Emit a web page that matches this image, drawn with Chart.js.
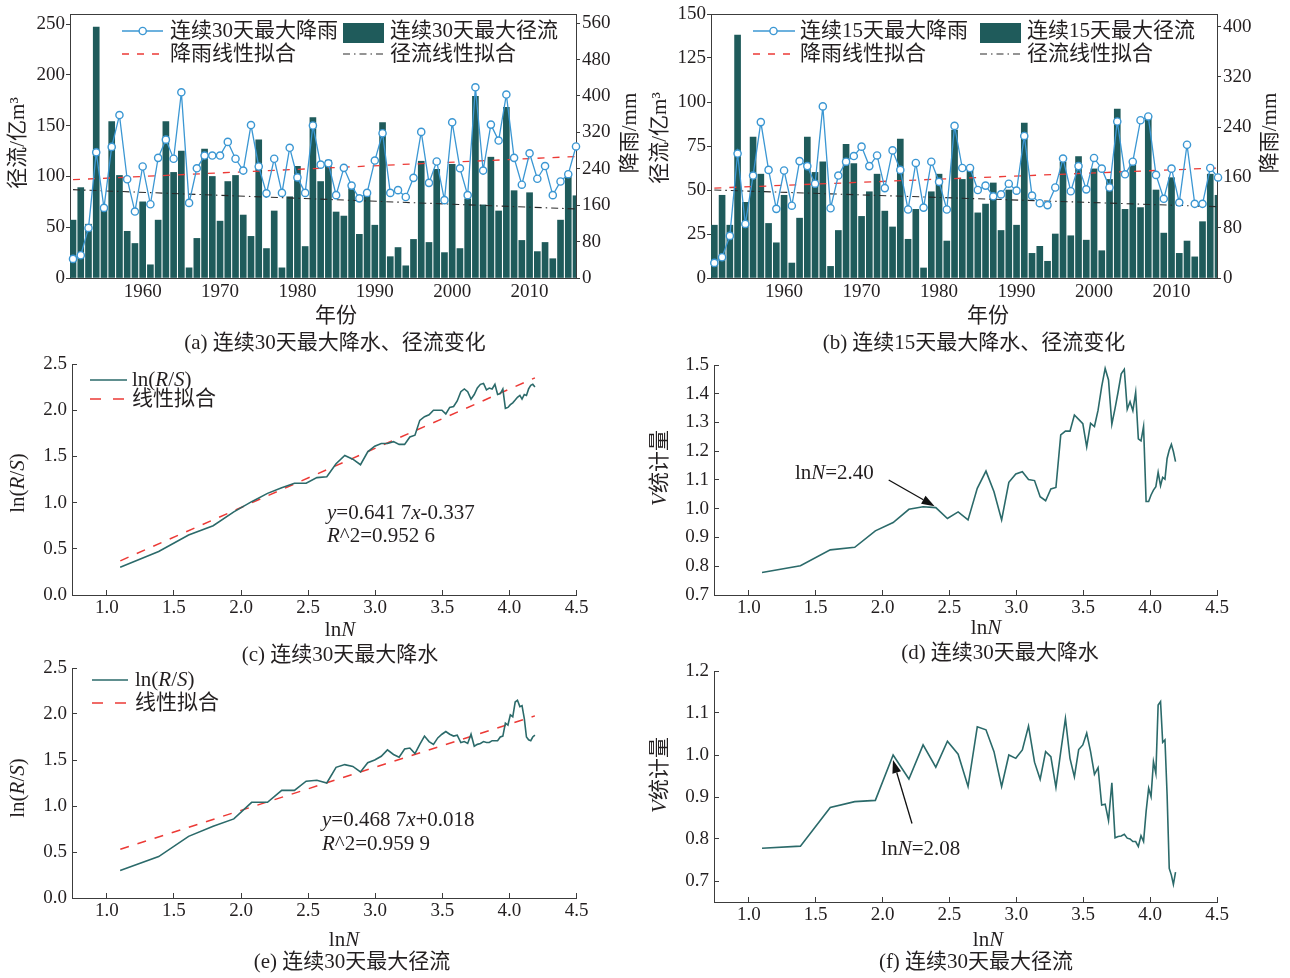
<!DOCTYPE html>
<html><head><meta charset="utf-8">
<script src="https://cdn.jsdelivr.net/npm/chart.js@4.4.1/dist/chart.umd.min.js"></script>
<style>
html,body{margin:0;padding:0;background:#fff;}
#wrap{position:relative;width:1290px;height:978px;overflow:hidden;background:#fff;}
.pane{position:absolute;}
canvas{display:block;}
</style></head><body><div id="wrap">
<div class="pane" style="left:0;top:0"><canvas id="ca" width="645" height="355"></canvas></div>
<div class="pane" style="left:645px;top:0"><canvas id="cb" width="645" height="355"></canvas></div>
<div class="pane" style="left:0;top:350px"><canvas id="cc" width="645" height="320"></canvas></div>
<div class="pane" style="left:645px;top:350px"><canvas id="cd" width="645" height="320"></canvas></div>
<div class="pane" style="left:0;top:655px"><canvas id="ce" width="645" height="323"></canvas></div>
<div class="pane" style="left:645px;top:655px"><canvas id="cf" width="645" height="323"></canvas></div>
</div>
<script>
// ---------------- data ----------------
const years = [1951,1952,1953,1954,1955,1956,1957,1958,1959,1960,1961,1962,1963,1964,1965,1966,1967,1968,1969,1970,1971,1972,1973,1974,1975,1976,1977,1978,1979,1980,1981,1982,1983,1984,1985,1986,1987,1988,1989,1990,1991,1992,1993,1994,1995,1996,1997,1998,1999,2000,2001,2002,2003,2004,2005,2006,2007,2008,2009,2010,2011,2012,2013,2014,2015,2016];
const yearTicks = [1960,1970,1980,1990,2000,2010];

// (a) 30-day max runoff (亿m³) and rainfall (mm)
const runoff30 = [57,89,53,247,67,154,101,46,34,75, 13,57,154,104,125,10,39,127,100,56, 95,101,62,41,136,29,66,10,80,110, 31,158,95,116,65,61,88,43,81,52, 153,21,30,12,38,115,35,107,25,112, 29,78,179,72,119,66,168,86,37,84, 26,35,19,57,100,81];
const rain30 = [42,50,110,276,154,288,358,217,146,245, 162,264,304,262,408,165,241,269,269,269, 299,262,236,336,245,186,262,187,286,221, 187,335,249,252,182,242,203,175,187,258, 318,187,193,178,220,321,209,256,171,342, 241,182,419,236,337,302,403,264,205,274, 218,246,182,212,228,289];
const rainFit30 = [216, 267];     // fit line at first / last year
const runoffFit30 = [87, 68];

// (b) 15-day max runoff and rainfall
const runoff15 = [30,47,30,138,43,80,59,31,20,47, 8.5,34,80,60,66,6.6,27,76,65,35, 49,59,38,29,79,22,39,5.7,49,59, 21,84,56,61,37,42,54,27,50,30, 88,14,18,9.5,25,66,24,69,21.5,62, 15.5,56,96,39,65,40,92,50,25.5,57, 14,21,12,32,59,47];
const rain15 = [24,33,67,198,86,163,248,172,110,171, 115,186,178,150,273,111,163,185,194,209, 178,195,143,203,172,109,183,112,185,153, 109,242,175,175,140,147,130,133,150,139, 226,131,119,116,144,190,138,178,141,191, 174,144,249,165,185,251,257,164,126,174, 120,212,118,118,175,160];
const rainFit15 = [143, 175];
const runoffFit15 = [50, 40.5];

const ticksL30 = [0,50,100,150,200,250];
const ticksR30 = [0,80,160,240,320,400,480,560];
const ticksL15 = [0,25,50,75,100,125,150];
const ticksR15 = [0,80,160,240,320,400];

// (c)-(f) R/S analysis
const lnN = [1.099,1.386,1.609,1.792,1.946,2.079,2.197,2.303,2.398,2.485,2.565,2.639,2.708,2.773,2.833,2.890,2.944,2.996,3.045,3.091,3.136,3.178,3.219,3.258,3.296,3.332,3.367,3.401,3.434,3.466,3.497,3.526,3.555,3.584,3.611,3.638,3.664,3.689,3.714,3.738,3.761,3.784,3.807,3.829,3.850,3.871,3.892,3.912,3.932,3.951,3.970,3.989,4.007,4.025,4.043,4.060,4.078,4.094,4.111,4.127,4.143,4.159,4.174,4.190];
const rsRain = [0.30,0.47,0.65,0.75,0.90,1.01,1.10,1.16,1.21,1.21, 1.27,1.28,1.42,1.51,1.47,1.41,1.55,1.61,1.64,1.64, 1.66,1.63,1.63,1.71,1.73,1.89,1.93,1.95,2.00,2.00, 2.00,1.96,2.03,2.04,2.10,2.20,2.23,2.20,2.12,2.17, 2.24,2.28,2.29,2.22,2.24,2.23,2.28,2.17,2.18,2.23, 2.02,2.03,2.06,2.08,2.11,2.14,2.16,2.12,2.17,2.16, 2.23,2.27,2.28,2.25];
const vRain = [0.778,0.802,0.857,0.866,0.923,0.952,0.998,1.007,1.004,0.966, 0.989,0.961,1.071,1.131,1.059,0.961,1.092,1.121,1.129,1.102, 1.098,1.042,1.028,1.069,1.074,1.257,1.270,1.270,1.326,1.311, 1.296,1.215,1.297,1.286,1.343,1.425,1.488,1.448,1.294,1.349, 1.407,1.469,1.485,1.346,1.372,1.341,1.405,1.243,1.236,1.286, 1.025,1.025,1.048,1.065,1.077,1.127,1.080,1.109,1.103,1.175, 1.204,1.224,1.199,1.164];
const rsRunoff = [0.30,0.45,0.67,0.78,0.86,1.04,1.04,1.17,1.17,1.27, 1.28,1.25,1.42,1.45,1.43,1.37,1.47,1.50,1.54,1.61, 1.56,1.53,1.62,1.63,1.57,1.67,1.76,1.70,1.67,1.74, 1.78,1.81,1.78,1.76,1.77,1.69,1.70,1.68,1.78,1.65, 1.67,1.68,1.70,1.69,1.69,1.71,1.71,1.71,1.75,1.76, 1.90,1.88,1.99,1.97,2.13,2.15,2.08,2.09,1.95,1.75, 1.72,1.71,1.75,1.77];
const vRunoff = [0.778,0.783,0.875,0.889,0.892,1.000,0.943,1.024,0.971,1.033, 1.002,0.925,1.067,1.060,1.008,0.925,1.000,0.992,1.012,1.069, 0.983,0.942,1.008,0.996,0.923,1.008,1.087,0.992,0.948,1.013, 1.024,1.052,1.008,0.954,0.970,0.881,0.883,0.844,0.934,0.803, 0.806,0.807,0.811,0.802,0.800,0.794,0.794,0.782,0.808,0.794, 0.865,0.921,0.901,0.984,0.956,1.119,1.127,1.030,1.036,0.905, 0.730,0.714,0.692,0.721];
const fitX = [1.1, 4.19];
const fitRsRain = [0.37, 2.35];
const fitRsRunoff = [0.53, 1.98];
const lnTicks = [1.0,1.5,2.0,2.5,3.0,3.5,4.0,4.5];
const rsTicks = [0,0.5,1.0,1.5,2.0,2.5];
const vTicksRain = [0.7,0.8,0.9,1.0,1.1,1.2,1.3,1.4,1.5];
const vTicksRunoff = [0.7,0.8,0.9,1.0,1.1,1.2];

// ---------------- style ----------------
const FONT = '"Liberation Serif", "Noto Sans CJK SC", serif';
const TXT = '#231f20';
const AX = '#3c3c3c';
const BAR = '#1f5b5b';
const TEAL = '#2b6a6a';
const BLUE = '#3b97d3';
const RED = '#ec3a36';
const DD = '#2a2a2a';
const TS = 19;   // tick font size
const FS = 21;   // text font size
Chart.defaults.font.family = FONT;
Chart.defaults.color = TXT;

function mkScale(o) {
  return {
    type: 'linear', position: o.pos, min: o.min, max: o.max, offset: false,
    afterBuildTicks: s => { s.ticks = o.ticks.map(v => ({value: v})); },
    afterFit: s => {
      if (s.isHorizontal()) s.height = o.size; else s.width = o.size;
      s.paddingLeft = 0; s.paddingRight = 0; s.paddingTop = 0; s.paddingBottom = 0;
    },
    grid: {display: true, drawOnChartArea: false, drawTicks: o.tl !== 0, tickLength: o.tl, color: AX, tickWidth: 1},
    border: {display: true, color: AX, width: 1},
    ticks: {autoSkip: false, maxRotation: 0, minRotation: 0, padding: o.pad, color: TXT,
            font: {family: FONT, size: TS}, callback: o.fmt}
  };
}

function txt(ctx, parts, x, y, size, align, rot) {
  ctx.save();
  ctx.translate(x, y);
  if (rot) ctx.rotate(rot);
  ctx.fillStyle = TXT; ctx.textBaseline = 'middle'; ctx.textAlign = 'left';
  const fonts = parts.map(p => (p[1] ? 'italic ' : '') + size + 'px ' + FONT);
  const ws = parts.map((p, i) => { ctx.font = fonts[i]; return ctx.measureText(p[0]).width; });
  const total = ws.reduce((a, b) => a + b, 0);
  let cx = align === 'center' ? -total / 2 : (align === 'right' ? -total : 0);
  parts.forEach((p, i) => { ctx.font = fonts[i]; ctx.fillText(p[0], cx, 0); cx += ws[i]; });
  ctx.restore();
}
function seg(ctx, x1, x2, y, color, w, dash) {
  ctx.save(); ctx.strokeStyle = color; ctx.lineWidth = w; ctx.setLineDash(dash || []);
  ctx.beginPath(); ctx.moveTo(x1, y); ctx.lineTo(x2, y); ctx.stroke(); ctx.restore();
}
function arrow(c, from, to) {
  const xs = c.scales.x, ys = c.scales.y, ctx = c.ctx;
  const x1 = xs.getPixelForValue(from[0]), y1 = ys.getPixelForValue(from[1]);
  const x2 = xs.getPixelForValue(to[0]), y2 = ys.getPixelForValue(to[1]);
  const ang = Math.atan2(y2 - y1, x2 - x1), L = 13, H = 4.5;
  const bx = x2 - L * Math.cos(ang), by = y2 - L * Math.sin(ang);
  ctx.save(); ctx.strokeStyle = '#111'; ctx.fillStyle = '#111'; ctx.lineWidth = 1.3;
  ctx.beginPath(); ctx.moveTo(x1, y1); ctx.lineTo(bx, by); ctx.stroke();
  ctx.beginPath(); ctx.moveTo(x2, y2);
  ctx.lineTo(bx + H * Math.sin(ang), by - H * Math.cos(ang));
  ctx.lineTo(bx - H * Math.sin(ang), by + H * Math.cos(ang));
  ctx.closePath(); ctx.fill(); ctx.restore();
}
function dataText(c, parts, at, size) {
  txt(c.ctx, parts, c.scales.x.getPixelForValue(at[0]), c.scales.y.getPixelForValue(at[1]), size, 'left');
}

// ---------------- year charts (a), (b) ----------------
function yearChart(id, cfg) {
  const last = years.length - 1;
  return new Chart(document.getElementById(id), {
    type: 'bar',
    data: {datasets: [
      {type: 'line', data: years.map((y, i) => ({x: y, y: cfg.rain[i]})), yAxisID: 'y2',
       borderColor: BLUE, borderWidth: 1.3, pointRadius: 3.6, pointBackgroundColor: '#fff',
       pointBorderColor: BLUE, pointBorderWidth: 1.4, tension: 0, order: 1, clip: false},
      {type: 'line', data: [{x: years[0], y: cfg.rainFit[0]}, {x: years[last], y: cfg.rainFit[1]}], yAxisID: 'y2',
       borderColor: RED, borderWidth: 1.3, borderDash: [7, 8], pointRadius: 0, order: 2},
      {type: 'line', data: [{x: years[0], y: cfg.runoffFit[0]}, {x: years[last], y: cfg.runoffFit[1]}], yAxisID: 'y',
       borderColor: DD, borderWidth: 1.1, borderDash: [7, 4, 1.5, 4], pointRadius: 0, order: 3},
      {type: 'bar', data: years.map((y, i) => ({x: y, y: cfg.runoff[i]})), yAxisID: 'y',
       backgroundColor: BAR, barThickness: 6, order: 4}
    ]},
    options: {
      responsive: false, animation: false, events: [],
      layout: {padding: {top: 14, left: 0, right: 0, bottom: 0}},
      plugins: {legend: {display: false}, tooltip: {enabled: false}},
      scales: {
        x: mkScale({pos: 'bottom', min: cfg.xmin, max: cfg.xmax, ticks: yearTicks, size: 77, tl: 0, pad: 3, fmt: v => String(v)}),
        y: mkScale({pos: 'left', min: 0, max: cfg.lmax, ticks: cfg.lticks, size: cfg.lw, tl: 4, pad: 1, fmt: v => String(v)}),
        y2: mkScale({pos: 'right', min: 0, max: cfg.rmax, ticks: cfg.rticks, size: cfg.rw, tl: 4, pad: 2, fmt: v => String(v)})
      }
    },
    plugins: [{id: 'extra', afterDraw: c => {
      const ctx = c.ctx, a = c.chartArea, L = cfg.leg;
      // top frame
      ctx.save(); ctx.strokeStyle = AX; ctx.lineWidth = 1; ctx.beginPath();
      ctx.moveTo(a.left, a.top + 0.5); ctx.lineTo(a.right, a.top + 0.5); ctx.stroke(); ctx.restore();
      // legend
      seg(ctx, L.l1, L.l1e, 31, BLUE, 1.3);
      ctx.save(); ctx.beginPath(); ctx.arc(L.c1, 31, 3.6, 0, Math.PI * 2); ctx.fillStyle = '#fff'; ctx.fill();
      ctx.strokeStyle = BLUE; ctx.lineWidth = 1.4; ctx.stroke(); ctx.restore();
      txt(ctx, [[cfg.names[0]]], L.t1, 31, FS, 'left');
      seg(ctx, L.l1, L.l1e + 2, 54, RED, 1.3, [7, 8]);
      txt(ctx, [['降雨线性拟合']], L.t1, 54, FS, 'left');
      ctx.save(); ctx.fillStyle = BAR; ctx.fillRect(L.b, 23, 41, 20); ctx.restore();
      txt(ctx, [[cfg.names[1]]], L.t2, 31, FS, 'left');
      seg(ctx, L.b, L.b + 42, 54, DD, 1.1, [7, 4, 1.5, 4]);
      txt(ctx, [['径流线性拟合']], L.t2, 54, FS, 'left');
      // axis titles & caption
      txt(ctx, [['径流/亿m³']], cfg.ttl.lx, cfg.ttl.ly, FS, 'center', -Math.PI / 2);
      txt(ctx, [['降雨/mm']], cfg.ttl.rx, cfg.ttl.ry, FS, 'center', -Math.PI / 2);
      txt(ctx, [['年份']], cfg.ttl.xx, 316, FS, 'center');
      txt(ctx, [[cfg.caption]], cfg.ttl.cx, 343, FS, 'center');
    }}]
  });
}

yearChart('ca', {
  rain: rain30, runoff: runoff30, rainFit: rainFit30, runoffFit: runoffFit30,
  xmin: 1950.61, xmax: 2016.0, lmax: 260, rmax: 580, lticks: ticksL30, rticks: ticksR30, lw: 70, rw: 69,
  names: ['连续30天最大降雨', '连续30天最大径流'],
  leg: {l1: 122, l1e: 163, c1: 142.7, t1: 170, b: 343, t2: 390},
  ttl: {lx: 18, ly: 143, rx: 630, ry: 133, xx: 336, cx: 335},
  caption: '(a) 连续30天最大降水、径流变化'
});
yearChart('cb', {
  rain: rain15, runoff: runoff15, rainFit: rainFit15, runoffFit: runoffFit15,
  xmin: 1950.57, xmax: 2015.87, lmax: 150, rmax: 420, lticks: ticksL15, rticks: ticksR15, lw: 66, rw: 73,
  names: ['连续15天最大降雨', '连续15天最大径流'],
  leg: {l1: 108, l1e: 150, c1: 128.5, t1: 155, b: 335, t2: 382},
  ttl: {lx: 15, ly: 138, rx: 625, ry: 133, xx: 343, cx: 329},
  caption: '(b) 连续15天最大降水、径流变化'
});

// ---------------- lnN charts (c)-(f) ----------------
function lnChart(id, cfg) {
  const ds = [{type: 'line', data: lnN.map((x, i) => ({x: x, y: cfg.vals[i]})), borderColor: TEAL,
               borderWidth: 1.6, pointRadius: 0, tension: 0, order: 1}];
  if (cfg.fit) ds.push({type: 'line', data: fitX.map((x, i) => ({x: x, y: cfg.fit[i]})), borderColor: RED,
               borderWidth: 1.5, borderDash: [9, 9], pointRadius: 0, order: 2});
  return new Chart(document.getElementById(id), {
    type: 'line',
    data: {datasets: ds},
    options: {
      responsive: false, animation: false, events: [],
      layout: {padding: {top: cfg.top, right: cfg.padR, left: 0, bottom: 0}},
      plugins: {legend: {display: false}, tooltip: {enabled: false}},
      scales: {
        x: mkScale({pos: 'bottom', min: 0.74, max: 4.5, ticks: lnTicks, size: cfg.xSize, tl: -5, pad: 7, fmt: v => v.toFixed(1)}),
        y: mkScale({pos: 'left', min: cfg.ymin, max: cfg.ymax, ticks: cfg.yticks, size: cfg.left, tl: -5, pad: 10, fmt: v => v.toFixed(1)})
      }
    },
    plugins: [{id: 'extra', afterDraw: c => cfg.draw(c, c.ctx)}]
  });
}

const lnNlabel = [['ln'], ['N', 1]];
const rsLabel = [['ln('], ['R', 1], ['/'], ['S', 1], [')']];

lnChart('cc', {
  vals: rsRain, fit: fitRsRain, top: 14, padR: 68.5, xSize: 75, left: 72,
  ymin: 0, ymax: 2.5, yticks: rsTicks,
  draw: (c, ctx) => {
    seg(ctx, 90, 127, 30, TEAL, 1.6);
    txt(ctx, rsLabel, 132, 30, FS, 'left');
    seg(ctx, 90, 127, 49, RED, 1.5, [11, 12]);
    txt(ctx, [['线性拟合']], 132, 49, FS, 'left');
    txt(ctx, [['y', 1], ['=0.641 7'], ['x', 1], ['-0.337']], 327, 163, FS, 'left');
    txt(ctx, [['R', 1], ['^2=0.952 6']], 327, 186, FS, 'left');
    txt(ctx, rsLabel, 18, 133, FS, 'center', -Math.PI / 2);
    txt(ctx, lnNlabel, 340, 280, FS, 'center');
    txt(ctx, [['(c) 连续30天最大降水']], 340, 305, FS, 'center');
  }
});
lnChart('cd', {
  vals: vRain, top: 15, padR: 73, xSize: 75, left: 69,
  ymin: 0.7, ymax: 1.5, yticks: vTicksRain,
  draw: (c, ctx) => {
    dataText(c, [['ln'], ['N', 1], ['=2.40']], [1.345, 1.124], FS);
    arrow(c, [2.046, 1.10], [2.389, 1.009]);
    txt(ctx, [['V', 1], ['统计量']], 15, 118, FS, 'center', -Math.PI / 2);
    txt(ctx, lnNlabel, 341, 278, FS, 'center');
    txt(ctx, [['(d) 连续30天最大降水']], 355, 303, FS, 'center');
  }
});
lnChart('ce', {
  vals: rsRunoff, fit: fitRsRunoff, top: 13, padR: 68.5, xSize: 80, left: 72,
  ymin: 0, ymax: 2.5, yticks: rsTicks,
  draw: (c, ctx) => {
    seg(ctx, 92, 128, 25, TEAL, 1.6);
    txt(ctx, rsLabel, 135, 25, FS, 'left');
    seg(ctx, 92, 128, 48, RED, 1.5, [11, 12]);
    txt(ctx, [['线性拟合']], 135, 48, FS, 'left');
    txt(ctx, [['y', 1], ['=0.468 7'], ['x', 1], ['+0.018']], 322, 165, FS, 'left');
    txt(ctx, [['R', 1], ['^2=0.959 9']], 322, 189, FS, 'left');
    txt(ctx, rsLabel, 18, 133, FS, 'center', -Math.PI / 2);
    txt(ctx, lnNlabel, 344, 285, FS, 'center');
    txt(ctx, [['(e) 连续30天最大径流']], 352, 307, FS, 'center');
  }
});
lnChart('cf', {
  vals: vRunoff, top: 16, padR: 73, xSize: 76, left: 69,
  ymin: 0.65, ymax: 1.2, yticks: vTicksRunoff,
  draw: (c, ctx) => {
    dataText(c, [['ln'], ['N', 1], ['=2.08']], [1.991, 0.774], FS);
    arrow(c, [2.22, 0.837], [2.078, 0.988]);
    txt(ctx, [['V', 1], ['统计量']], 15, 120, FS, 'center', -Math.PI / 2);
    txt(ctx, lnNlabel, 343, 285, FS, 'center');
    txt(ctx, [['(f) 连续30天最大径流']], 331, 307, FS, 'center');
  }
});
</script>
</body></html>
